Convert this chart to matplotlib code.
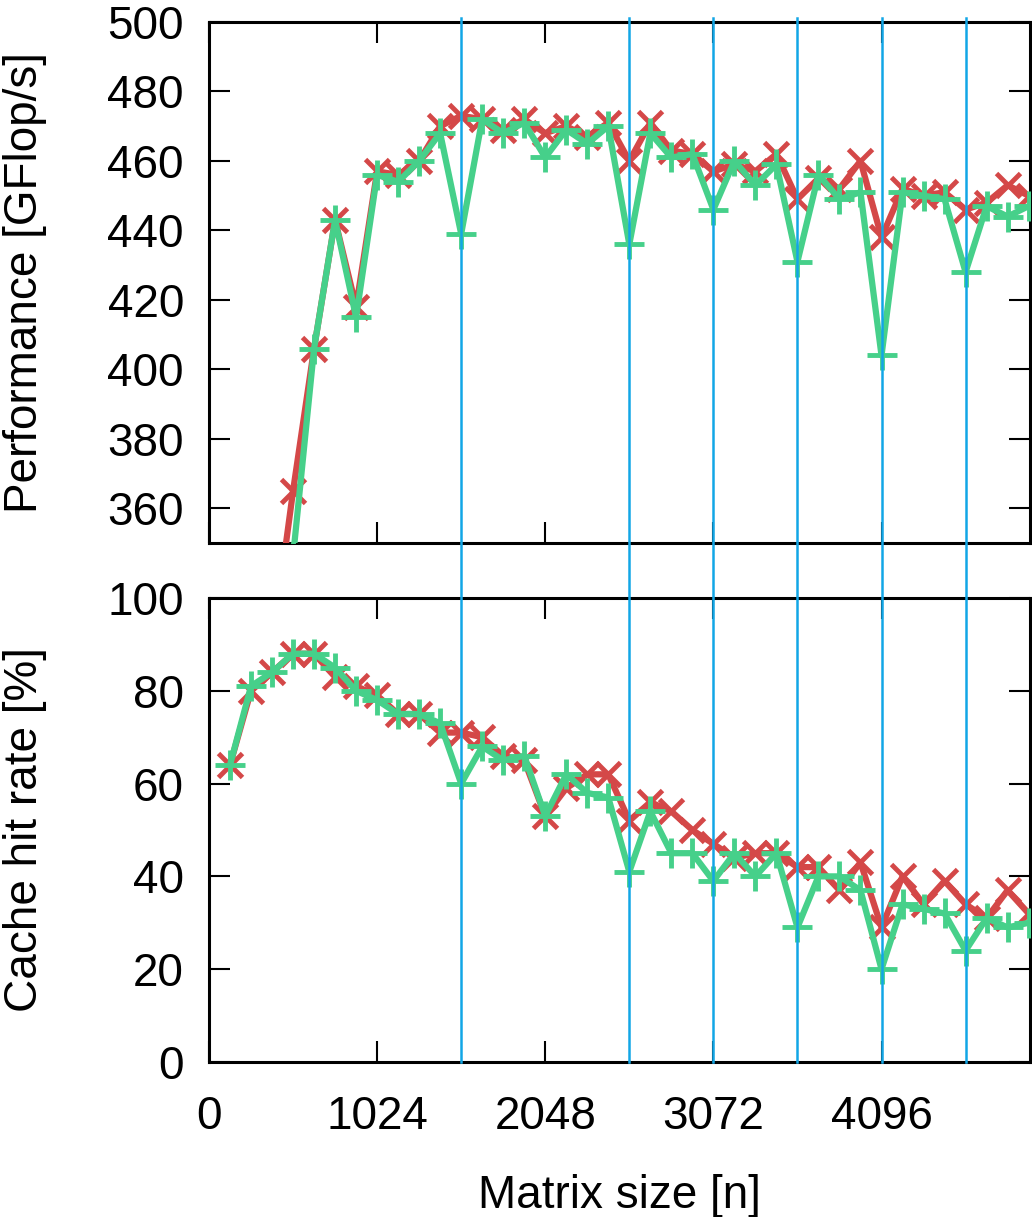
import numpy as np
import matplotlib
matplotlib.use('Agg')
from matplotlib import pyplot as plt
from matplotlib.lines import Line2D
from matplotlib.transforms import blended_transform_factory

plt.rcParams['font.family'] = ['Liberation Sans', 'DejaVu Sans']

# matrix sizes n = 128, 256, ..., 4992
sizes = [128 * k for k in range(1, 40)]

perf_red = [120, 230, 320, 365, 406, 443, 418, 457, 456, 460,
            470, 473, 472, 469, 472, 468, 470, 467, 471, 460,
            471, 463, 462, 457, 459, 457, 462, 449, 455, 452,
            460, 438, 452, 450, 451, 446, 448, 453, 450]
perf_green = [100, 200, 290, 346, 406, 443, 415, 456, 454, 460,
              468, 439, 472, 468, 471, 461, 469, 465, 470, 436,
              468, 461, 462, 446, 460, 453, 459, 431, 456, 449,
              451, 404, 451, 450, 449, 428, 447, 444, 447]

hit_red = [64, 80, 84, 88, 88, 83, 81, 79, 75, 75,
           71, 71, 70, 66, 65, 53, 59, 62, 62, 52,
           56, 54, 50, 47, 44, 45, 45, 42, 42, 37,
           43, 29, 40, 34, 39, 34, 31, 37, 32]
hit_green = [64, 81, 84, 88, 88, 85, 80, 78, 75, 75,
             73, 60, 68, 65, 66, 53, 62, 58, 57, 41,
             54, 45, 45, 39, 45, 40, 45, 29, 40, 40,
             37, 20, 34, 33, 32, 24, 31, 29, 30]

# sizes where the dips line up
marks = [1536, 2560, 3072, 3584, 4096, 4608]

xticks = [0, 1024, 2048, 3072, 4096]

red = '#d44848'
green = '#46d08a'
blue = '#12a6e6'

fig = plt.figure(figsize=(10.32, 12.17), dpi=100)
ax1 = fig.add_axes([0.2025, 0.5538, 0.7955, 0.4281])
ax2 = fig.add_axes([0.2025, 0.1274, 0.7955, 0.3812])

fs = 33
for ax, r, g in [(ax1, perf_red, perf_green), (ax2, hit_red, hit_green)]:
    ax.plot(sizes, r, color=red, lw=4.5, marker='x', ms=17, mew=3.5, zorder=3)
    ax.plot(sizes, g, color=green, lw=4.5, marker='+', ms=21, mew=3.5, zorder=4)
    ax.set_xlim(0, 5000)
    ax.set_xticks(xticks)
    ax.tick_params(direction='in', length=15, width=1.5, top=True, right=True,
                   labelsize=fs)
    ax.tick_params(axis='y', pad=18)
    ax.tick_params(axis='x', pad=24)
    for s in ax.spines.values():
        s.set_linewidth(2.2)
    ax.yaxis.set_label_coords(-0.197, 0.5)

ax1.set_ylim(350, 500)
ax1.set_yticks(range(360, 501, 20))
ax1.set_xticklabels([])
ax1.set_ylabel('Performance [GFlop/s]', fontsize=fs)

ax2.set_ylim(0, 100)
ax2.set_yticks(range(0, 101, 20))
ax2.set_ylabel('Cache hit rate [%]', fontsize=fs)
ax2.set_xlabel('Matrix size [n]', fontsize=fs, labelpad=25)

# vertical markers run through both panels and the gap between them
trans = blended_transform_factory(ax2.transData, fig.transFigure)
for m in marks:
    fig.add_artist(Line2D([m, m], [1 - 1062 / 1217, 1 - 18 / 1217], transform=trans,
                          color=blue, lw=1.8, zorder=10))

fig.savefig('out.png', dpi=100)
